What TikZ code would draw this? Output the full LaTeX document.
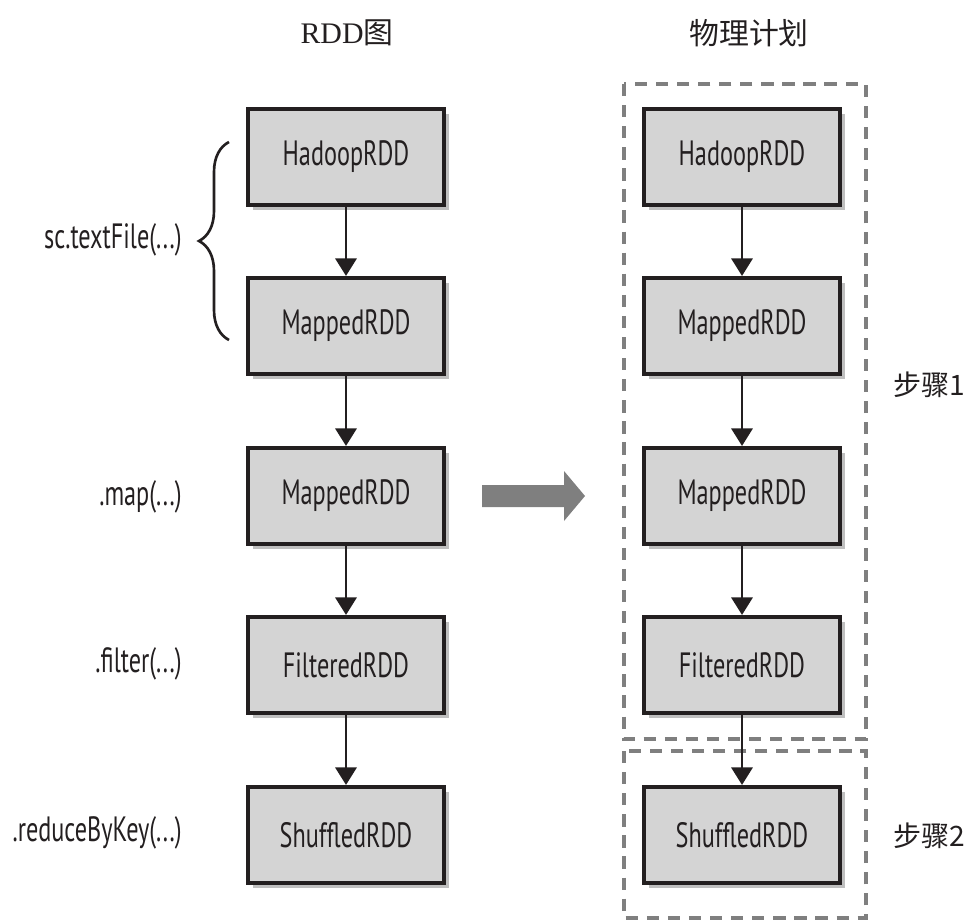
\documentclass[tikz,border=0pt]{standalone}
\usepackage{fontspec}
\setmainfont{Liberation Serif}
\newfontfamily\boxfont[FakeStretch=0.69]{PT Sans}
\newfontfamily\cjk{Noto Sans CJK SC}
\usetikzlibrary{arrows.meta,shadows,decorations.pathreplacing}
\definecolor{boxfill}{HTML}{D4D4D4}
\definecolor{dashgray}{HTML}{7F7F7F}
\definecolor{ink}{HTML}{231F20}
\tikzset{
  rddbox/.style={draw=ink, line width=2.3pt, fill=boxfill, minimum width=196*0.02cm, minimum height=96*0.02cm,
    inner sep=0pt, font=\boxfont\fontsize{20}{22}\selectfont, text=ink,
    drop shadow={shadow xshift=3pt, shadow yshift=-3pt, opacity=0.25, fill=black}},
  flow/.style={draw=ink, line width=1.7pt, -{Triangle[width=12pt,length=10pt]}},
  oplabel/.style={anchor=east, inner sep=0pt, font=\boxfont\fontsize{20}{22}\selectfont, text=ink},
  title/.style={inner sep=0pt, font=\fontsize{17}{19}\selectfont, text=ink},
  stagebox/.style={draw=dashgray, line width=2.2pt, dash pattern=on 7pt off 5pt},
  stagelabel/.style={anchor=west, inner sep=0pt, font=\fontsize{16}{18}\selectfont, text=ink}
}
\begin{document}
\begin{tikzpicture}[x=0.02cm,y=-0.02cm]
\useasboundingbox (0,0) rectangle (971,922);
% titles
\node[title] (t1) at (347,33) {RDD{\cjk 图}};
\node[title] (t2) at (749,33) {\cjk 物理计划};
% stage boxes
\draw[stagebox] (624,84) rectangle (866,739);
\draw[stagebox] (624,751) rectangle (866,918);
% left column
\node[rddbox] (l1) at (346,157) {HadoopRDD};
\node[rddbox] (l2) at (346,326) {MappedRDD};
\node[rddbox] (l3) at (346,496) {MappedRDD};
\node[rddbox] (l4) at (346,665) {FilteredRDD};
\node[rddbox] (l5) at (346,835) {ShuffledRDD};
% right column
\node[rddbox] (r1) at (742,157) {HadoopRDD};
\node[rddbox] (r2) at (742,326) {MappedRDD};
\node[rddbox] (r3) at (742,496) {MappedRDD};
\node[rddbox] (r4) at (742,665) {FilteredRDD};
\node[rddbox] (r5) at (742,835) {ShuffledRDD};
% connectors
\foreach \a/\b in {l1/l2,l2/l3,l3/l4,l4/l5,r1/r2,r2/r3,r3/r4,r4/r5}
  \draw[flow] (\a) -- (\b);
% labels
\node[oplabel] (o1) at (182,240) {sc.textFile(...)};
\node[oplabel] (o2) at (182,497) {.map(...)};
\node[oplabel] (o3) at (182,664) {.filter(...)};
\node[oplabel] (o4) at (182,833) {.reduceByKey(...)};
% brace
\coordinate (bt) at (229,142);
\coordinate (bb) at (229,340);
\draw[ink, line width=1.5pt, decorate, decoration={brace, amplitude=0.6cm}] (bb) -- (bt);
% big arrow
\fill[dashgray] (482,485) -- (564,485) -- (564,471) -- (585,496) -- (564,521) -- (564,507) -- (482,507) -- cycle;
% stage labels
\node[stagelabel] (s1) at (893,385) {\cjk 步骤1};
\node[stagelabel] (s2) at (893,836) {\cjk 步骤2};
\end{tikzpicture}
\end{document}
